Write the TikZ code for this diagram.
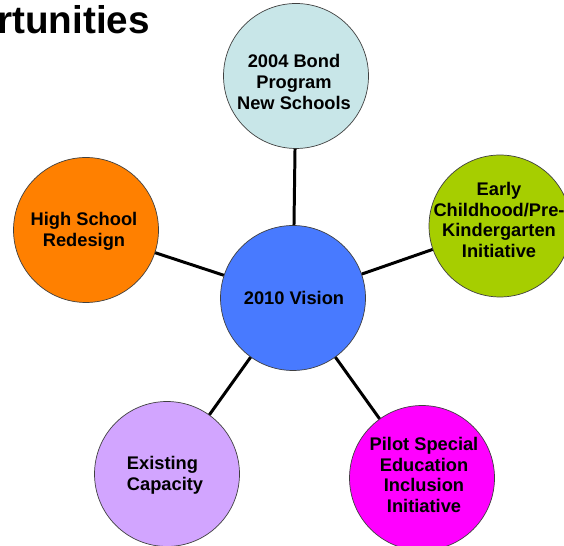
\documentclass[tikz,border=0pt]{standalone}
\usepackage{fontspec}
\setmainfont{Liberation Sans}
\usepackage{xcolor}
\definecolor{bondcol}{RGB}{200,230,232}
\definecolor{visioncol}{RGB}{72,122,255}
\definecolor{earlycol}{RGB}{166,206,0}
\definecolor{hscol}{RGB}{255,128,0}
\definecolor{capcol}{RGB}{210,165,255}
\definecolor{pilotcol}{RGB}{255,0,255}
\tikzstyle{bubble}=[circle, draw=black!75, thin, minimum size=2.9cm, inner sep=0pt]
\tikzstyle{txt}=[align=center, font=\fontsize{10.4}{11.8}\selectfont\bfseries, inner sep=0pt]
\tikzstyle{spoke}=[line width=1.7pt, black]

\begin{document}
\begin{tikzpicture}[x=0.02cm, y=-0.02cm]
        \useasboundingbox (0,0) rectangle (564,546);
        %% Titulo
        \node[anchor=base west, inner sep=0pt, font=\fontsize{22}{26}\selectfont\bfseries] (title) at (-3,34) {rtunities};

        %% Circulos
        \node[bubble, fill=visioncol] (vision) at (293,298) {};
        \node[bubble, fill=bondcol] (bond) at (296,76) {};
        \node[bubble, fill=earlycol, minimum size=2.84cm] (early) at (500,226) {};
        \node[bubble, fill=hscol] (hs) at (86,230) {};
        \node[bubble, fill=capcol] (cap) at (167,474) {};
        \node[bubble, fill=pilotcol] (pilot) at (422,478) {};

        % Textos
        \node[txt] (vision_t) at (294,298) {2010 Vision};
        \node[txt] (bond_t) at (294,82) {2004 Bond\\Program\\New Schools};
        \node[txt] (early_t) at (499,220) {Early\\Childhood/Pre-\\Kindergarten\\Initiative};
        \node[txt] (hs_t) at (84,231) {High School\\Redesign};
        \node[txt, align=left] (cap_t) at (165,475) {Existing\\Capacity};
        \node[txt] (pilot_t) at (424,475) {Pilot Special\\Education\\Inclusion\\Initiative};

        %% Conexiones
        \draw[spoke] (vision) -- (bond);
        \draw[spoke] (vision) -- (early);
        \draw[spoke] (vision) -- (hs);
        \draw[spoke] (vision) -- (cap);
        \draw[spoke] (vision) -- (pilot);
    \end{tikzpicture}
\end{document}
